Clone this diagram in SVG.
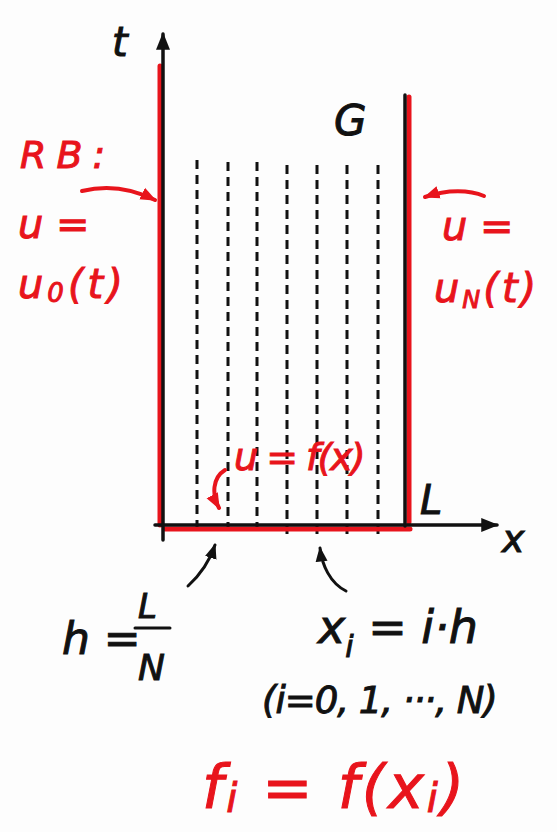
<svg xmlns="http://www.w3.org/2000/svg" width="557" height="832" viewBox="0 0 557 832">
<defs>
<style>
.bk{stroke:#111;fill:none;stroke-width:3.5;stroke-linecap:round}
.rd{stroke:#e8141c;fill:none;stroke-width:4;stroke-linecap:round}
.ds{stroke:#111;fill:none;stroke-width:3;stroke-dasharray:9,6}
.tb{font-family:"DejaVu Sans","Liberation Sans",sans-serif;font-style:italic;fill:#111;stroke:#111;stroke-width:1}
.tr{font-family:"DejaVu Sans","Liberation Sans",sans-serif;font-style:italic;fill:#e8141c;stroke:#e8141c;stroke-width:1}
</style>
<marker id="ab" viewBox="0 0 10 10" refX="9" refY="5" markerWidth="5" markerHeight="5" orient="auto"><path d="M0,1 L10,5 L0,9 z" fill="#111"/></marker>
<marker id="ar" viewBox="0 0 10 10" refX="9" refY="5" markerWidth="4" markerHeight="4" orient="auto"><path d="M0,1 L10,5 L0,9 z" fill="#e8141c"/></marker>
</defs>
<rect width="557" height="832" fill="#fdfdfd"/>
<g id="grid">
<line class="ds" x1="197" y1="160" x2="197" y2="535"/>
<line class="ds" x1="228" y1="162" x2="228" y2="535"/>
<line class="ds" x1="257" y1="162" x2="257" y2="535"/>
<line class="ds" x1="287" y1="165" x2="287" y2="535"/>
<line class="ds" x1="317" y1="165" x2="317" y2="535"/>
<line class="ds" x1="347" y1="165" x2="347" y2="535"/>
<line class="ds" x1="378" y1="165" x2="378" y2="535"/>
</g>
<g id="boundaries">
<line class="rd" x1="160" y1="66" x2="160" y2="525" style="stroke-width:5"/>
<line class="rd" x1="409" y1="97" x2="409" y2="522" style="stroke-width:5"/>
<line class="rd" x1="165" y1="529" x2="410" y2="529" style="stroke-width:5"/>
</g>
<g id="axes">
<line class="bk" x1="163" y1="540" x2="163" y2="34" marker-end="url(#ab)"/>
<line class="bk" x1="405" y1="95" x2="405" y2="526"/>
<line class="bk" x1="155" y1="525" x2="497" y2="525" marker-end="url(#ab)"/>
</g>
<g id="connectors">
<path class="rd" d="M82,191 C110,184 135,190 155,200" marker-end="url(#ar)"/>
<path class="rd" d="M484,196 C470,190 448,189 425,197" marker-end="url(#ar)"/>
<path class="rd" d="M225,470 C212,478 212,495 219,508" marker-end="url(#ar)"/>
<path class="bk" d="M188,586 C200,575 210,560 215,545" marker-end="url(#ab)" style="stroke-width:3"/>
<path class="bk" d="M346,591 C330,583 322,565 320,548" marker-end="url(#ab)" style="stroke-width:3"/>
</g>
<g id="labels">
<text class="tb" x="112" y="56" font-size="40">t</text>
<text class="tb" x="334" y="135" font-size="42">G</text>
<text class="tb" x="420" y="514" font-size="40">L</text>
<text class="tb" x="502" y="552" font-size="38">x</text>
<text class="tr" x="20" y="168" font-size="38" letter-spacing="10">RB:</text>
<text class="tr" x="18" y="238" font-size="40">u =</text>
<text class="tr" x="18" y="298" font-size="40" letter-spacing="4">u<tspan font-size="26" dy="4">0</tspan><tspan dy="-4">(t)</tspan></text>
<text class="tr" x="442" y="240" font-size="40">u =</text>
<text class="tr" x="434" y="302" font-size="40" letter-spacing="3">u<tspan font-size="24" dy="6">N</tspan><tspan dy="-6">(t)</tspan></text>
<text class="tr" x="234" y="470" font-size="38" letter-spacing="-2">u = f(x)</text>
<text class="tb" x="62" y="654" font-size="44">h =</text>
<text class="tb" x="138" y="618" font-size="34">L</text>
<line class="bk" x1="135" y1="628" x2="170" y2="628" style="stroke-width:3"/>
<text class="tb" x="138" y="680" font-size="36">N</text>
<text class="tb" x="318" y="643" font-size="46">x<tspan font-size="30" dy="14">i</tspan><tspan dy="-14"> = i·h</tspan></text>
<text class="tb" x="262" y="713" font-size="37" letter-spacing="-1">(i=0, 1, ···, N)</text>
<text class="tr" x="202" y="808" font-size="60" letter-spacing="3">f<tspan font-size="40" dy="4">i</tspan><tspan dy="-4"> = f(x</tspan><tspan font-size="40" dy="4">i</tspan><tspan dy="-4">)</tspan></text>
</g>
</svg>
